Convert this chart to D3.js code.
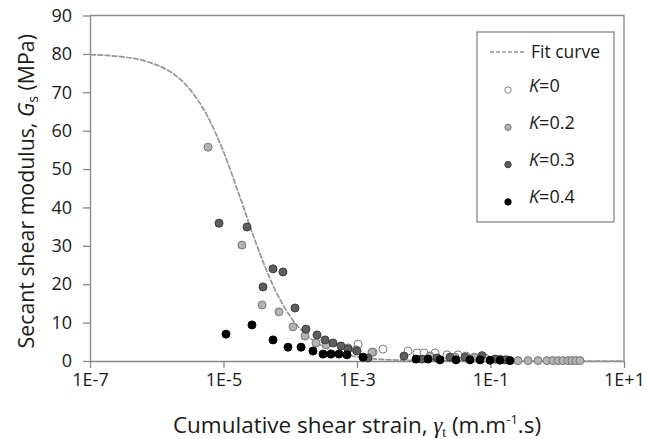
<!DOCTYPE html>
<html>
<head>
<meta charset="utf-8">
<script src="https://cdn.jsdelivr.net/npm/d3@7"></script>
<style>
	body { margin: 0; background: #fff; }
	text { font-family: "Open Sans", sans-serif; fill: #1a1a1a; }
</style>
</head>
<body>
<div id="chart-area"></div>
<script>

// values
let yTicks = [0, 10, 20, 30, 40, 50, 60, 70, 80, 90];
let xTicks = [1e-7, 1e-5, 1e-3, 1e-1, 1e1];
let xTickLabels = ["1E-7", "1E-5", "1E-3", "1E-1", "1E+1"];

// fit curve
let curveStrain = [1e-7, 1.78e-7, 3.16e-7, 5.62e-7, 1e-6, 1.78e-6, 3.16e-6, 5.62e-6, 1e-5, 1.78e-5,
	3.16e-5, 5.62e-5, 1e-4, 1.78e-4, 3.16e-4, 5.62e-4, 1e-3, 3.16e-3, 1e-2, 1e-1, 1, 10];
let curveModulus = [79.8, 79.6, 79.2, 78.5, 77.1, 74.8, 70.7, 64.1, 54.5, 42.5,
	30.1, 19.4, 11.6, 6.6, 3.7, 2.0, 1.1, 0.3, 0.1, 0, 0, 0];

// K = 0
let k0Strain = [1.04e-3, 1.74e-3, 2.45e-3, 5.81e-3, 7.92e-3, 1.01e-2, 1.48e-2, 2.23e-2, 3.26e-2, 4.30e-2, 5.66e-2, 8.28e-2];
let k0Modulus = [4.4, 2.3, 3.1, 2.6, 2.1, 2.1, 2.1, 1.6, 1.6, 1.3, 1.0, 0.8];

// K = 0.2
let k02Strain = [5.86e-6, 1.89e-5, 3.78e-5, 6.77e-5, 1.10e-4, 1.66e-4, 2.43e-4, 3.44e-4, 7.33e-4, 9.66e-4,
	1.68e-3, 1.24e-2, 2.94e-2, 5.86e-2, 0.139, 0.18, 0.258, 0.365, 0.515, 0.702, 0.864, 1.03, 1.22, 1.45, 1.66, 1.91, 2.19];
let k02Modulus = [55.7, 30.2, 14.6, 12.8, 8.9, 6.5, 4.7, 4.2, 3.4, 2.9,
	2.3, 1.3, 1.0, 0.8, 0.5, 0.3, 0.1, 0.1, 0.1, 0.1, 0.1, 0.1, 0.1, 0.1, 0.1, 0.1, 0.1];

// K = 0.3
let k03Strain = [8.57e-6, 2.25e-5, 3.91e-5, 5.52e-5, 7.78e-5, 1.18e-4, 1.72e-4, 2.52e-4, 3.32e-4, 4.37e-4, 5.75e-4,
	7.33e-4, 1.0e-3, 1.46e-3, 5.06e-3, 9.42e-3, 1.58e-2, 2.47e-2, 4.15e-2, 7.46e-2, 0.117, 0.165];
let k03Modulus = [35.9, 34.9, 19.3, 24.0, 23.2, 13.8, 8.3, 6.8, 5.5, 4.7, 3.9,
	3.1, 2.6, 0.8, 1.3, 0.5, 0.8, 1.0, 1.0, 1.4, 0.5, 0.3];

// K = 0.4
let k04Strain = [1.09e-5, 2.67e-5, 5.52e-5, 9.25e-5, 1.45e-4, 2.19e-4, 3.10e-4, 4.07e-4, 5.37e-4, 7.08e-4,
	1.23e-3, 7.66e-3, 1.16e-2, 1.75e-2, 3.04e-2, 4.93e-2, 6.97e-2, 9.84e-2, 0.139, 0.196];
let k04Modulus = [7.0, 9.4, 5.5, 3.6, 3.6, 2.6, 1.8, 1.8, 1.8, 1.6,
	1.0, 0.5, 0.5, 0.3, 0.3, 0.3, 0.3, 0.2, 0.2, 0.1];

let seriesLabels = ["0", "0.2", "0.3", "0.4"];


let width = 646, height = 439;
let plot = {left: 90, right: 624, top: 15.5, bottom: 361};
let axisColor = "#878787";

let svg = d3.select("#chart-area").append("svg")
	.attr("width", width)
	.attr("height", height);

let x = d3.scaleLog()
	.domain([1e-7, 1e1])
	.range([plot.left, plot.right]);

let y = d3.scaleLinear()
	.domain([0, 90])
	.range([plot.bottom, plot.top]);

let series = [
	{label: seriesLabels[0], strain: k0Strain, modulus: k0Modulus, fill: "#ffffff", stroke: "#7f7f7f"},
	{label: seriesLabels[1], strain: k02Strain, modulus: k02Modulus, fill: "#b3b3b3", stroke: "#787878"},
	{label: seriesLabels[2], strain: k03Strain, modulus: k03Modulus, fill: "#5e5e5e", stroke: "#3c3c3c"},
	{label: seriesLabels[3], strain: k04Strain, modulus: k04Modulus, fill: "#000000", stroke: "#000000"}
];

// frame (top and right)
svg.append("path")
	.attr("fill", "none")
	.attr("stroke", axisColor)
	.attr("stroke-width", 1.3)
	.attr("d", "M" + plot.left + "," + plot.top + "H" + plot.right + "V" + plot.bottom);

// axes
let yAxis = d3.axisLeft(y)
	.tickValues(yTicks)
	.tickSize(7)
	.tickSizeOuter(0)
	.tickPadding(11);

let xAxis = d3.axisBottom(x)
	.tickValues(xTicks)
	.tickFormat((d, i) => xTickLabels[i])
	.tickSize(7)
	.tickSizeOuter(0)
	.tickPadding(5);

let yAxisGroup = svg.append("g")
	.attr("transform", "translate(" + plot.left + ",0)")
	.call(yAxis);

let xAxisGroup = svg.append("g")
	.attr("transform", "translate(0," + plot.bottom + ")")
	.call(xAxis);

[yAxisGroup, xAxisGroup].forEach(g => {
	g.selectAll("path, line").attr("stroke", axisColor).attr("stroke-width", 1.3);
	g.selectAll("text")
		.attr("font-family", "Open Sans")
		.attr("font-size", 18)
		.attr("fill", "#1a1a1a");
});

// fit curve
let line = d3.line()
	.x((d, i) => x(curveStrain[i]))
	.y((d, i) => y(curveModulus[i]))
	.curve(d3.curveMonotoneX);

svg.append("path")
	.attr("class", "line")
	.attr("fill", "none")
	.attr("stroke", "#959595")
	.attr("stroke-width", 1.7)
	.attr("stroke-dasharray", "6,1.2")
	.attr("d", line(curveStrain));

// points
series.forEach(s => {
	svg.append("g").selectAll("circle")
		.data(s.strain)
		.enter().append("circle")
		.attr("cx", (d) => x(d))
		.attr("cy", (d, i) => y(s.modulus[i]))
		.attr("r", 4)
		.attr("fill", s.fill)
		.attr("stroke", s.stroke)
		.attr("stroke-width", 1);
});

// legend
let legend = svg.append("g");

legend.append("rect")
	.attr("x", 477)
	.attr("y", 32)
	.attr("width", 137)
	.attr("height", 190)
	.attr("fill", "#fff")
	.attr("stroke", axisColor)
	.attr("stroke-width", 1.3);

legend.append("line")
	.attr("x1", 490).attr("x2", 526)
	.attr("y1", 52).attr("y2", 52)
	.attr("stroke", "#959595")
	.attr("stroke-width", 1.6)
	.attr("stroke-dasharray", "4,2");

legend.append("text")
	.attr("x", 531)
	.attr("y", 58)
	.attr("font-size", 17.5)
	.text("Fit curve");

series.forEach((s, i) => {
	let cy = 90 + i * 37.3;
	legend.append("circle")
		.attr("cx", 508)
		.attr("cy", cy)
		.attr("r", 3.2)
		.attr("fill", s.fill)
		.attr("stroke", s.stroke);
	let t = legend.append("text")
		.attr("x", 529)
		.attr("y", cy + 1.5)
		.attr("font-size", 18);
	t.append("tspan").attr("font-style", "italic").text("K");
	t.append("tspan").text("=" + s.label);
});

// axis titles
let yTitle = svg.append("text")
	.attr("transform", "translate(34," + ((plot.top + plot.bottom) / 2 + 3) + ") rotate(-90)")
	.attr("text-anchor", "middle")
	.attr("font-size", 21.3);
yTitle.append("tspan").text("Secant shear modulus, ");
yTitle.append("tspan").attr("font-style", "italic").text("G");
yTitle.append("tspan").attr("font-size", 14).attr("dy", 4).text("s");
yTitle.append("tspan").attr("dy", -4).text(" (MPa)");

let xTitle = svg.append("text")
	.attr("x", (plot.left + plot.right) / 2)
	.attr("y", 433)
	.attr("text-anchor", "middle")
	.attr("font-size", 22.5);
xTitle.append("tspan").text("Cumulative shear strain, ");
xTitle.append("tspan").attr("font-style", "italic").attr("font-family", "Liberation Serif").text("γ");
xTitle.append("tspan").attr("font-size", 14).attr("dy", 4).attr("font-family", "Liberation Serif").text("t");
xTitle.append("tspan").attr("dy", -4).text(" (m.m");
xTitle.append("tspan").attr("font-size", 13).attr("dy", -9).text("-1");
xTitle.append("tspan").attr("dy", 9).text(".s)");

</script>
</body>
</html>
